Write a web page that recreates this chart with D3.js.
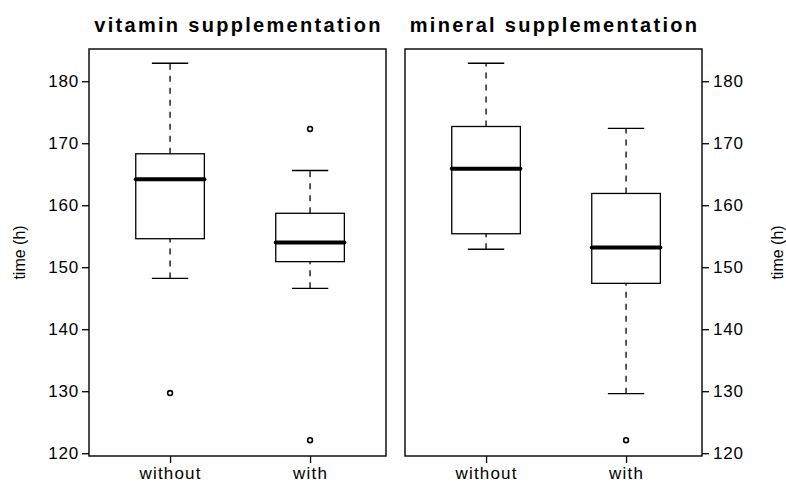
<!DOCTYPE html>
<html>
<head>
<meta charset="utf-8">
<script src="https://cdn.jsdelivr.net/npm/d3@7"></script>
<style>
  body { margin: 0; background: #fff; }
  text { font-family: "Liberation Sans", Arial, sans-serif; fill: #000; }
</style>
</head>
<body>
<div id="chart"></div>
<script>
// five-number summaries: lower whisker, Q1, median, Q3, upper whisker
const groups = ["without", "with"];
const panelTitles = ["vitamin supplementation", "mineral supplementation"];
const vitaminWithout = [148.2, 154.6, 164.2, 168.3, 182.9];
const vitaminWith = [146.6, 150.9, 154.0, 158.7, 165.6];
const mineralWithout = [152.9, 155.4, 165.9, 172.7, 182.9];
const mineralWith = [129.6, 147.4, 153.2, 161.9, 172.4];
const vitaminOutliers = [[129.7], [172.3, 122.1]];
const mineralOutliers = [[], [122.1]];
const yTicks = [120, 130, 140, 150, 160, 170, 180];
const yLabel = "time (h)";

const width = 786, height = 486;
const plotTop = 49, plotBottom = 456;
const panelW = 297;
const panelX = [89, 405];

const svg = d3.select("#chart").append("svg")
    .attr("width", width)
    .attr("height", height);

const y = d3.scaleLinear().domain([119.55, 185.2]).range([plotBottom, plotTop]);
const x = d3.scaleLinear().domain([0.421, 0.421 + panelW / 140]).range([0, panelW]);

const panels = [
    {title: panelTitles[0], stats: [vitaminWithout, vitaminWith], out: vitaminOutliers, side: "left"},
    {title: panelTitles[1], stats: [mineralWithout, mineralWith], out: mineralOutliers, side: "right"}
];

panels.forEach((p, i) => {
    const g = svg.append("g").attr("transform", `translate(${panelX[i]},0)`);

    // title
    g.append("text")
        .attr("x", panelW / 2 + 1)
        .attr("y", 32)
        .attr("text-anchor", "middle")
        .attr("font-size", "20px")
        .attr("font-weight", "bold")
        .attr("letter-spacing", "2.3px")
        .text(p.title);

    // y axis
    const left = p.side === "left";
    const yAxis = (left ? d3.axisLeft(y) : d3.axisRight(y))
        .tickValues(yTicks).tickSize(7).tickPadding(left ? 3 : 4);
    const ya = g.append("g")
        .attr("transform", left ? "translate(0,0)" : `translate(${panelW},0)`)
        .call(yAxis);
    ya.select(".domain").remove();
    ya.selectAll("line").attr("stroke", "#000").attr("stroke-width", 1.3);
    ya.selectAll("text")
        .attr("font-size", "17px")
        .attr("letter-spacing", "0.8px")
        .attr("font-family", "Liberation Sans, Arial, sans-serif");

    // y label
    const lx = left ? -70 : panelW + 75;
    g.append("text")
        .attr("transform", `translate(${lx},${(plotTop + plotBottom) / 2}) rotate(-90)`)
        .attr("text-anchor", "middle")
        .attr("font-size", "16px")
        .attr("dy", "0.35em")
        .text(yLabel);

    // x axis
    const xAxis = d3.axisBottom(x).tickValues([1, 2])
        .tickFormat((d, k) => groups[k]).tickSize(7).tickPadding(4);
    const xa = g.append("g")
        .attr("transform", `translate(0,${plotBottom})`)
        .call(xAxis);
    xa.select(".domain").remove();
    xa.selectAll("line").attr("stroke", "#000").attr("stroke-width", 1.3);
    xa.selectAll("text")
        .attr("font-size", "17px")
        .attr("letter-spacing", "1.2px")
        .attr("font-family", "Liberation Sans, Arial, sans-serif");

    // frame
    g.append("rect")
        .attr("x", 0).attr("y", plotTop)
        .attr("width", panelW).attr("height", plotBottom - plotTop)
        .attr("fill", "none")
        .attr("stroke", "#000")
        .attr("stroke-width", 1.4);

    // boxes
    p.stats.forEach((s, k) => {
        const cx = x(k + 1);
        const bw = x(1.245) - x(1);
        const cw = x(1.13) - x(1);
        const b = g.append("g");

        // whiskers
        [[s[0], s[1]], [s[3], s[4]]].forEach(([a, c]) => {
            b.append("line")
                .attr("x1", cx).attr("x2", cx)
                .attr("y1", y(a)).attr("y2", y(c))
                .attr("stroke", "#000").attr("stroke-width", 1.3)
                .attr("stroke-dasharray", "6,6");
        });
        [s[0], s[4]].forEach(v => {
            b.append("line")
                .attr("x1", cx - cw).attr("x2", cx + cw)
                .attr("y1", y(v)).attr("y2", y(v))
                .attr("stroke", "#000").attr("stroke-width", 1.3);
        });

        b.append("rect")
            .attr("x", cx - bw).attr("width", bw * 2)
            .attr("y", y(s[3])).attr("height", y(s[1]) - y(s[3]))
            .attr("fill", "#fff")
            .attr("stroke", "#000").attr("stroke-width", 1.3);

        b.append("line")
            .attr("x1", cx - bw).attr("x2", cx + bw)
            .attr("y1", y(s[2])).attr("y2", y(s[2]))
            .attr("stroke", "#000").attr("stroke-width", 4)
            .attr("stroke-linecap", "round");

        b.selectAll("circle")
            .data(p.out[k])
            .enter().append("circle")
            .attr("cx", cx).attr("cy", d => y(d))
            .attr("r", 2.4)
            .attr("fill", "#fff")
            .attr("stroke", "#000").attr("stroke-width", 1.6);
    });
});
</script>
</body>
</html>
